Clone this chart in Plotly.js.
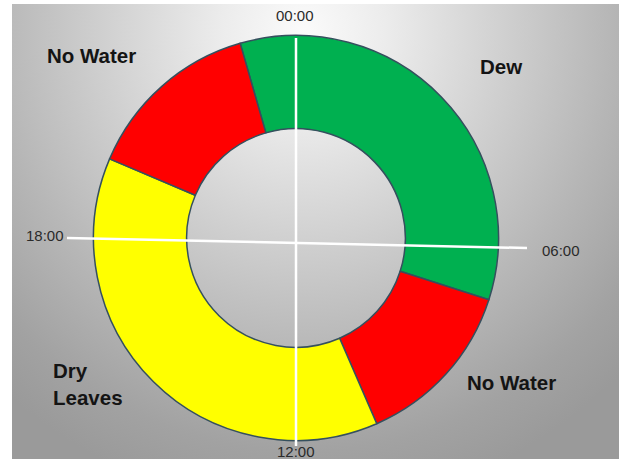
<!DOCTYPE html>
<html>
<head>
<meta charset="utf-8">
<script src="https://cdn.plot.ly/plotly-3.0.1.min.js"></script>
<style>
  html, body { margin: 0; padding: 0; background: #ffffff; }
  #wrap { position: relative; width: 619px; height: 461px; overflow: hidden; background: #ffffff; }
  #bg { position: absolute; left: 12px; top: 4px; width: 607px; height: 455px;
        background: radial-gradient(ellipse 75% 105% at 48% 6%, #fbfbfb 0%, #ececec 18%, #d2d2d2 42%, #b6b6b6 68%, #a2a2a2 88%, #9a9a9a 100%); }
  #chart { position: absolute; left: 0; top: 0; width: 619px; height: 461px; }
</style>
</head>
<body>
<div id="wrap"><div id="bg"></div><div id="chart"></div></div>
<script>
// Data (hours of the day, clockwise from 00:00 starting at ~22:55)
const phaseNames = ["Dew", "No Water", "Dry Leaves", "No Water"];
const phaseHours = [8.25, 3.25, 9.1, 3.4];
const phaseColors = ["#00b050", "#ff0000", "#ffff00", "#ff0000"];
const phaseLabelText = ["Dew", "No Water", "Dry<br>Leaves", "No Water"];
const clockLabels = ["00:00", "06:00", "12:00", "18:00"];

const W = 619, H = 461;
const px = v => v / W;
const py = v => 1 - v / H;

// unique slice keys so that the two "No Water" slices are not merged
const sliceKeys = phaseNames.map((n, i) => n + "\u200b".repeat(i));

const trace = {
  type: "pie",
  labels: sliceKeys,
  values: phaseHours,
  sort: false,
  direction: "clockwise",
  rotation: -16,
  hole: 0.54,
  textinfo: "none",
  hoverinfo: "none",
  marker: { colors: phaseColors, line: { color: "#35505e", width: 1.5 } },
  domain: { x: [93.5 / W, 498.5 / W], y: [20.5 / H, 425.5 / H] },
  showlegend: false
};

const labelPos = [
  { x: 501.4, y: 66, xa: "center" },
  { x: 511, y: 382, xa: "center" },
  { x: 51, y: 384, xa: "left" },
  { x: 91, y: 55.5, xa: "center" }
];
const clockPos = [
  { x: 295, y: 15.5 },
  { x: 560.5, y: 250.5 },
  { x: 296, y: 451 },
  { x: 44.7, y: 235.5 }
];

const annotations = [];
phaseLabelText.forEach((t, i) => {
  annotations.push({
    xref: "paper", yref: "paper", x: px(labelPos[i].x), y: py(labelPos[i].y),
    xanchor: labelPos[i].xa, yanchor: "middle", align: "left",
    text: t, showarrow: false,
    font: { family: "Liberation Sans, Arial, sans-serif", size: 20.5, color: "#141414", weight: "bold" }
  });
});
clockLabels.forEach((t, i) => {
  annotations.push({
    xref: "paper", yref: "paper", x: px(clockPos[i].x), y: py(clockPos[i].y),
    xanchor: "center", yanchor: "middle",
    text: t, showarrow: false,
    font: { family: "Liberation Sans, Arial, sans-serif", size: 15, color: "#2a2a2a" }
  });
});

const shapes = [
  { type: "line", xref: "paper", yref: "paper", x0: px(296), x1: px(296), y0: py(38), y1: py(446),
    line: { color: "#ffffff", width: 2.5 } },
  { type: "line", xref: "paper", yref: "paper", x0: px(67), x1: px(527), y0: py(238), y1: py(248),
    line: { color: "#ffffff", width: 2.5 } }
];

const layout = {
  width: W, height: H,
  margin: { l: 0, r: 0, t: 0, b: 0 },
  paper_bgcolor: "rgba(0,0,0,0)",
  plot_bgcolor: "rgba(0,0,0,0)",
  showlegend: false,
  annotations: annotations,
  shapes: shapes
};

Plotly.newPlot("chart", [trace], layout, { displayModeBar: false, staticPlot: true });
</script>
</body>
</html>
